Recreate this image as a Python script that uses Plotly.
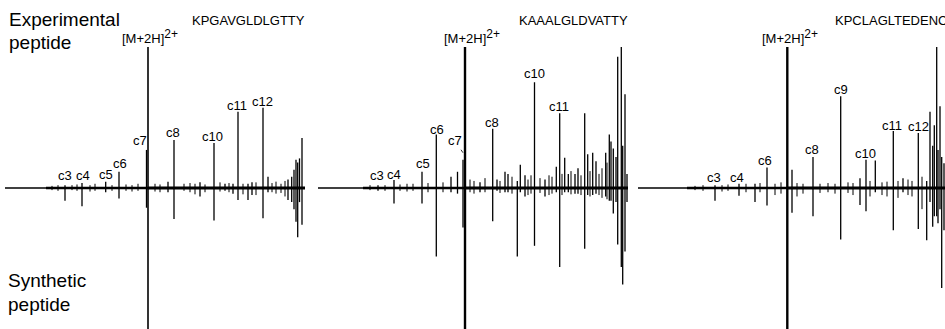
import plotly.graph_objects as go

# ---------------- data (x = m/z position on the shared axis, y = relative intensity) -------------
# Panel 1: KPGAVGLDLGTTY
p1_mz  = [65, 82, 105.7, 119, 146.5, 168, 174, 200, 214, 225, 233, 238, 248, 252, 263, 268,
          288, 291.7, 294, 296, 297.7, 299.5, 302]
p1_exp = [0.02, 0.035, 0.045, 0.115, 0.27, 0.045, 0.34, 0.04, 0.32, 0.03, 0.03, 0.54, 0.03, 0.04, 0.57, 0.08,
          0.06, 0.08, 0.13, 0.20, 0.18, 0.21, 0.355]
p1_syn = [0.09, 0.13, 0.03, 0.075, 0.14, 0.03, 0.22, 0.06, 0.23, 0.02, 0.04, 0.085, 0.085, 0.05, 0.215, 0.03,
          0.085, 0.10, 0.15, 0.24, 0.35, 0.10, 0.26]
# minor (noise-level) peaks
p1_minor_mz  = [52, 58, 72, 77, 90, 95, 112, 126, 132, 138, 155, 160, 184, 190, 195, 205, 220, 229, 243,
                256, 272, 276, 281, 285]
p1_minor_exp = [0.015, 0.02, 0.02, 0.025, 0.02, 0.03, 0.02, 0.025, 0.02, 0.03, 0.03, 0.025, 0.03, 0.035,
                0.03, 0.025, 0.04, 0.035, 0.03, 0.04, 0.035, 0.045, 0.03, 0.05]
p1_minor_syn = [0.015, 0.02, 0.015, 0.02, 0.025, 0.02, 0.02, 0.02, 0.025, 0.02, 0.025, 0.03, 0.02, 0.03,
                0.045, 0.03, 0.025, 0.03, 0.045, 0.05, 0.03, 0.04, 0.035, 0.06]

# Panel 2: KAAALGLDVATTY
p2_mz  = [378, 394, 422, 436.3, 451, 457.5, 463, 480, 492.7, 497, 505, 508, 517.3, 520.3, 525, 534.5, 545,
          556.3, 559.7, 564.7, 568.3, 575, 578, 584.7, 587.7, 592.7, 596, 605.7, 609.3, 611, 613.3, 616,
          617.7, 621.3, 622.7, 625, 627]
p2_exp = [0.02, 0.057, 0.115, 0.38, 0.08, 0.115, 0.20, 0.04, 0.42, 0.06, 0.115, 0.10, 0.05, 0.165, 0.09, 0.75, 0.06,
          0.15, 0.53, 0.215, 0.10, 0.10, 0.14, 0.53, 0.24, 0.25, 0.19, 0.25, 0.38, 0.33, 0.28, 0.22,
          0.93, 1.0, 0.30, 0.665, 0.10]
p2_syn = [0.02, 0.11, 0.11, 0.485, 0.03, 0.04, 0.28, 0.03, 0.235, 0.02, 0.03, 0.03, 0.485, 0.03, 0.06, 0.41, 0.06,
          0.03, 0.56, 0.03, 0.03, 0.04, 0.04, 0.43, 0.05, 0.05, 0.04, 0.06, 0.09, 0.09, 0.18, 0.10,
          0.40, 0.56, 0.685, 0.45, 0.10]
p2_minor_mz  = [370, 385, 400, 407, 413, 428, 443, 470, 474, 485, 500, 512, 528, 531, 540, 549, 552, 562,
                571, 581, 590, 599, 602, 607]
p2_minor_exp = [0.02, 0.02, 0.025, 0.03, 0.03, 0.035, 0.04, 0.06, 0.05, 0.07, 0.05, 0.08, 0.06, 0.09, 0.07,
                0.09, 0.08, 0.10, 0.12, 0.09, 0.12, 0.10, 0.14, 0.18]
p2_minor_syn = [0.015, 0.02, 0.02, 0.025, 0.02, 0.03, 0.03, 0.03, 0.04, 0.03, 0.035, 0.04, 0.05, 0.04, 0.035,
                0.05, 0.04, 0.05, 0.045, 0.05, 0.06, 0.05, 0.07, 0.08]

# Panel 3: KPCLAGLTEDENC...
p3_mz  = [715, 739, 755, 767, 792, 813, 840.7, 860, 866, 875.3, 893.3, 903, 918.3, 926.7, 930, 932.7,
          934.3, 936.7, 938, 940, 941.7, 944]
p3_exp = [0.02, 0.03, 0.03, 0.145, 0.13, 0.22, 0.65, 0.07, 0.20, 0.195, 0.405, 0.07, 0.39, 0.05, 0.54, 0.30,
          0.445, 1.0, 0.27, 0.58, 0.22, 0.175]
p3_syn = [0.09, 0.055, 0.10, 0.125, 0.175, 0.20, 0.365, 0.12, 0.165, 0.03, 0.30, 0.03, 0.29, 0.37, 0.10, 0.275,
          0.20, 0.20, 0.25, 0.15, 0.71, 0.30]
p3_minor_mz  = [695, 703, 722, 728, 746, 760, 775, 781, 797, 803, 820, 828, 835, 848, 853, 870, 882, 887,
                898, 908, 912, 922]
p3_minor_exp = [0.015, 0.02, 0.02, 0.025, 0.03, 0.035, 0.03, 0.04, 0.035, 0.03, 0.03, 0.035, 0.03, 0.04,
                0.035, 0.05, 0.04, 0.045, 0.05, 0.06, 0.05, 0.08]
p3_minor_syn = [0.015, 0.02, 0.025, 0.02, 0.03, 0.03, 0.05, 0.04, 0.06, 0.04, 0.035, 0.03, 0.04, 0.035,
                0.05, 0.06, 0.05, 0.06, 0.07, 0.05, 0.06, 0.15]

# Precursor [M+2H]2+ peaks of each panel
prec_mz  = [148, 465, 787.3]
prec_exp = [1.0, 1.0, 1.0]
prec_syn = [1.0, 1.0, 1.0]

# Baseline spans (start, noise start, end) per panel
base_start = [5, 318, 638]
noise_start = [46, 363, 687]
base_end = [305, 628, 945]

sequences = ["KPGAVGLDLGTTY", "KAAALGLDVATTY", "KPCLAGLTEDENC"]
seq_x = [190, 516.7, 833.3]

# fragment labels: text, x, y
lab_text = ["c3", "c4", "c5", "c6", "c7", "c8", "c10", "c11", "c12",
            "c3", "c4", "c5", "c6", "c8", "c10", "c11",
            "c3", "c4", "c6", "c8", "c9", "c10", "c11", "c12"]
lab_x = [65, 83, 105.5, 120, 140.3, 173, 212.5, 237, 262.5,
         376.7, 393.7, 422.5, 437, 491.7, 534.5, 559.3,
         713.7, 736.7, 765, 812, 841, 865, 892, 918.3]
lab_y = [0.045, 0.045, 0.052, 0.13, 0.293, 0.351, 0.328, 0.546, 0.574,
         0.045, 0.053, 0.133, 0.376, 0.423, 0.771, 0.534,
         0.035, 0.035, 0.151, 0.23, 0.655, 0.206, 0.406, 0.392]

# ---------------- figure ----------------
FONT = "Liberation Sans, Arial, Helvetica, sans-serif"


def stems(xs, hs, sign):
    X, Y = [], []
    for x, h in zip(xs, hs):
        X += [x, x, None]
        Y += [0, sign * h, None]
    return X, Y


fig = go.Figure()

# baselines
for s, n, e in zip(base_start, noise_start, base_end):
    fig.add_trace(go.Scatter(x=[s, e], y=[0, 0], mode="lines",
                             line=dict(color="black", width=1.3), hoverinfo="skip"))
for n, p, e in zip(noise_start, prec_mz, base_end):
    fig.add_trace(go.Scatter(x=[n, p], y=[0, 0], mode="lines",
                             line=dict(color="black", width=2.4), hoverinfo="skip"))
    fig.add_trace(go.Scatter(x=[p, e], y=[0, 0], mode="lines",
                             line=dict(color="black", width=3.2), hoverinfo="skip"))

# minor peaks (thinner)
for mz, ex, sy in [(p1_minor_mz, p1_minor_exp, p1_minor_syn), (p2_minor_mz, p2_minor_exp, p2_minor_syn),
                   (p3_minor_mz, p3_minor_exp, p3_minor_syn)]:
    X, Y = stems(mz, ex, 1)
    X2, Y2 = stems(mz, sy, -1)
    fig.add_trace(go.Scatter(x=X + X2, y=Y + Y2, mode="lines", line=dict(color="black", width=1.0),
                             hoverinfo="skip"))

for mz, ex, sy in [(p1_mz, p1_exp, p1_syn), (p2_mz, p2_exp, p2_syn), (p3_mz, p3_exp, p3_syn)]:
    X, Y = stems(mz, ex, 1)
    fig.add_trace(go.Scatter(x=X, y=Y, mode="lines", line=dict(color="black", width=1.3), hoverinfo="skip"))
    X, Y = stems(mz, sy, -1)
    fig.add_trace(go.Scatter(x=X, y=Y, mode="lines", line=dict(color="black", width=1.3), hoverinfo="skip"))

for i, (x, e, s) in enumerate(zip(prec_mz, prec_exp, prec_syn)):
    w = 1.6 if i == 0 else 2.4
    X, Y = stems([x], [e], 1)
    X2, Y2 = stems([x], [s], -1)
    fig.add_trace(go.Scatter(x=X + X2, y=Y + Y2, mode="lines", line=dict(color="black", width=w),
                             hoverinfo="skip"))

ann = []


def txt(text, x, y, size, xanchor="center"):
    ann.append(dict(text=text, x=x, y=y, xref="x", yref="y", showarrow=False,
                    xanchor=xanchor, yanchor="bottom", yshift=-(0.212 * size + 1),
                    font=dict(family=FONT, size=size, color="black")))


for t, x, y in zip(lab_text, lab_x, lab_y):
    txt(t, x, y, 13)

# c7 label with leader line in panel 2
ann.append(dict(text="c7", x=463, y=0.25, xref="x", yref="y", showarrow=True, arrowhead=0,
                arrowwidth=0.8, arrowcolor="black", ax=-8, ay=-12, standoff=0,
                font=dict(family=FONT, size=13, color="black")))

for x in [120, 441.7, 760]:
    txt("[M+2H]<sup><span style='font-size:12px'>2+</span></sup>", x, 1.021, 13, xanchor="left")

for s, x in zip(sequences, seq_x):
    txt(s, x, 1.149, 13, xanchor="left")

txt("Experimental", 7, 1.142, 19, xanchor="left")
txt("peptide", 7, 0.979, 19, xanchor="left")
txt("Synthetic", 6, -0.711, 19, xanchor="left")
txt("peptide", 6, -0.877, 19, xanchor="left")

fig.update_layout(
    width=945, height=329,
    margin=dict(l=0, r=0, t=0, b=0),
    paper_bgcolor="white", plot_bgcolor="white",
    showlegend=False,
    annotations=ann,
    xaxis=dict(range=[0, 945], visible=False, fixedrange=True),
    yaxis=dict(range=[-1.0, 1.3333], visible=False, fixedrange=True),
)

fig.write_html("out.html", config={"displayModeBar": False},
               post_script="document.body.style.margin='0px';")
